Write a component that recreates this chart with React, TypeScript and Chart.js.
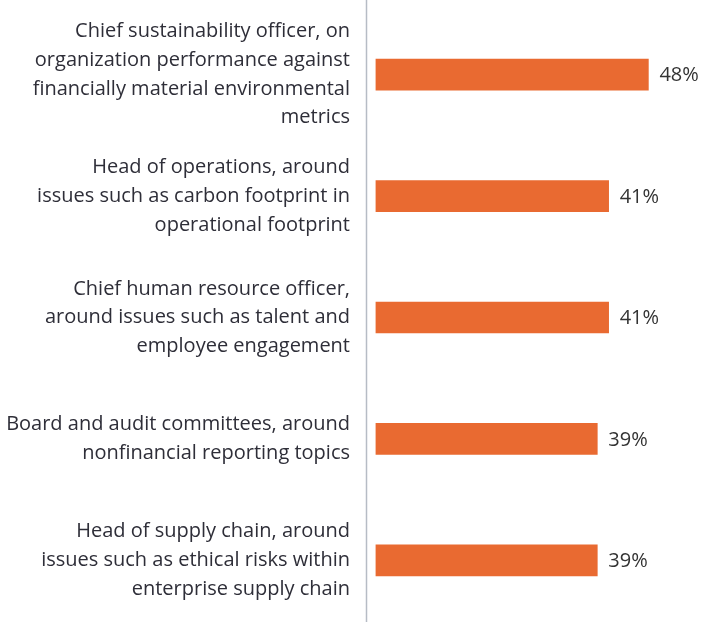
import React, { useEffect, useRef } from "react";
import { Chart, registerables } from "chart.js";

Chart.register(...registerables);

const categories: string[][] = [
  ["Chief sustainability officer, on", "organization performance against", "financially material environmental", "metrics"],
  ["Head of operations, around", "issues such as carbon footprint in", "operational footprint"],
  ["Chief human resource officer,", "around issues such as talent and", "employee engagement"],
  ["Board and audit committees, around", "nonfinancial reporting topics"],
  ["Head of supply chain, around", "issues such as ethical risks within", "enterprise supply chain"],
];
const values: number[] = [48, 41, 41, 39, 39];
const valueLabels: string[] = ["48%", "41%", "41%", "39%", "39%"];

const FONT = "'Open Sans'";
const TEXT = "#2e2e38";
const BAR = "#e96a31";
const AXIS = "#b6bcc5";

const valueLabelPlugin = {
  id: "valueLabels",
  afterDatasetsDraw(chart: any) {
    const ctx = chart.ctx;
    const meta = chart.getDatasetMeta(0);
    ctx.save();
    ctx.font = `20px ${FONT}`;
    ctx.fillStyle = "#333333";
    ctx.textAlign = "left";
    ctx.textBaseline = "middle";
    meta.data.forEach((bar: any, i: number) => {
      ctx.fillText(valueLabels[i], bar.x + 11, bar.y + 1);
    });
    ctx.restore();
  },
};

const axisLinePlugin = {
  id: "axisLine",
  beforeDatasetsDraw(chart: any) {
    const ctx = chart.ctx;
    const x = chart.chartArea.left + 0.5;
    ctx.save();
    ctx.strokeStyle = AXIS;
    ctx.lineWidth = 1.5;
    ctx.beginPath();
    ctx.moveTo(x, 0);
    ctx.lineTo(x, chart.chartArea.bottom + 1);
    ctx.stroke();
    ctx.restore();
  },
};

export default function App() {
  const ref = useRef<HTMLCanvasElement | null>(null);
  useEffect(() => {
    if (!ref.current) return;
    const chart = new Chart(ref.current, {
      type: "bar",
      data: {
        labels: categories,
        datasets: [
          {
            data: values,
            backgroundColor: BAR,
            barThickness: 31,
          },
        ],
      },
      plugins: [valueLabelPlugin, axisLinePlugin],
      options: {
        indexAxis: "y",
        animation: false,
        responsive: false,
        layout: { padding: { top: 14, bottom: 3, left: 0, right: 0 } },
        plugins: { legend: { display: false }, tooltip: { enabled: false } },
        scales: {
          x: { display: false, min: -1.75, max: 57.8 },
          y: {
            afterFit: (scale: any) => {
              scale.width = 366;
              scale.paddingTop = 0;
              scale.paddingBottom = 0;
            },
            grid: { display: false, drawTicks: false },
            border: { display: false },
            ticks: {
              padding: 16,
              color: TEXT,
              font: { family: FONT, size: 20, lineHeight: 1.435 },
            },
          },
        },
      },
    });
    return () => chart.destroy();
  }, []);
  return (
    <div style={{ position: "fixed", left: 0, top: 0, width: 704, height: 624, background: "#fff" }}>
      <canvas ref={ref} width={704} height={624} />
    </div>
  );
}
